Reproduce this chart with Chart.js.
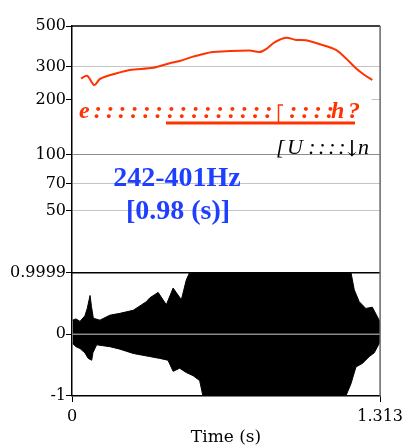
<!DOCTYPE html>
<html>
<head>
<meta charset="utf-8">
<script src="https://cdn.jsdelivr.net/npm/chart.js@4.4.1/dist/chart.umd.min.js"></script>
<style>
  html, body { margin: 0; padding: 0; background: #fff; }
</style>
</head>
<body>
<canvas id="chart" width="408" height="448"></canvas>
<script>
// --- Data ---
const xTicks = [0, 1.313];
const pitchTicks = [50, 70, 100, 200, 300, 500];
const waveTicks = [-1, 0, 0.9999];

// F0 track (s, Hz)
const pitchTime = [0.038, 0.065, 0.095, 0.119, 0.19, 0.246, 0.346, 0.416, 0.459, 0.516, 0.544, 0.6, 0.756, 0.799, 0.827, 0.863, 0.912, 0.955, 0.997, 1.054, 1.125, 1.167, 1.21, 1.245, 1.28];
const pitchHz = [260, 268, 239, 258, 277, 289, 297, 314, 323, 341, 348, 361, 368, 361, 375, 408, 432, 420, 418, 399, 371, 334, 295, 272, 255];

// waveform envelope (s, amplitude)
const waveTimeUp = [0.003, 0.017, 0.034, 0.055, 0.065, 0.077, 0.083, 0.091, 0.119, 0.161, 0.204, 0.261, 0.317, 0.331, 0.367, 0.402, 0.431, 0.466, 0.487, 0.501, 1.189, 1.203, 1.224, 1.252, 1.28, 1.309, 1.313];
const waveUp = [0.23, 0.25, 0.21, 0.3, 0.42, 0.63, 0.45, 0.26, 0.23, 0.31, 0.34, 0.39, 0.53, 0.59, 0.68, 0.48, 0.75, 0.56, 0.88, 1, 1, 0.72, 0.53, 0.42, 0.44, 0.23, 0.2];
const waveTimeLo = [0.003, 0.017, 0.034, 0.055, 0.069, 0.084, 0.089, 0.105, 0.161, 0.204, 0.261, 0.331, 0.374, 0.409, 0.431, 0.459, 0.487, 0.516, 0.544, 0.558, 1.167, 1.189, 1.21, 1.238, 1.267, 1.288, 1.309, 1.313];
const waveLo = [-0.15, -0.2, -0.23, -0.3, -0.39, -0.42, -0.3, -0.17, -0.2, -0.24, -0.31, -0.36, -0.39, -0.42, -0.6, -0.55, -0.62, -0.67, -0.75, -1, -1, -0.8, -0.53, -0.47, -0.36, -0.3, -0.15, -0.1];

const rangeText = ['242-401Hz', '[0.98 (s)]'];

// --- Styles ---
const RED = '#ff3300';
const BLUE = '#1f3fff';
const SERIF = '"DejaVu Serif", serif';
const TIMES = '"Liberation Serif", serif';
const tickFont = { family: SERIF, size: 16 };

const zip = (xs, ys) => xs.map((x, i) => ({ x, y: ys[i] }));

// annotation: transcription lines drawn glyph by glyph
function drawTranscription(ctx) {
  ctx.save();
  // white box hides the 200 Hz grid line under the text
  ctx.fillStyle = '#fff';
  ctx.fillRect(73, 96, 298.5, 30);

  ctx.fillStyle = RED;
  ctx.font = `italic bold 24px ${TIMES}`;
  ctx.textBaseline = 'alphabetic';
  ctx.textAlign = 'left';
  ctx.fillText('e', 79, 118);
  ctx.textAlign = 'center';
  for (let k = 0; k < 15; k++) ctx.fillText(':', 97.7 + 12.2 * k, 118);
  for (let k = 0; k < 4; k++) ctx.fillText(':', 293.3 + 12.2 * k, 118);
  ctx.textAlign = 'left';
  ctx.fillText('h', 331, 118);
  ctx.fillText('?', 348, 118);
  // bracket
  ctx.strokeStyle = RED;
  ctx.lineWidth = 1.5;
  ctx.beginPath();
  ctx.moveTo(283, 105);
  ctx.lineTo(278.5, 105);
  ctx.lineTo(278.5, 123);
  ctx.stroke();
  // underline
  ctx.fillRect(166, 121.5, 189, 3);

  // black line
  ctx.fillStyle = '#000';
  ctx.font = `italic 22px ${TIMES}`;
  ctx.textAlign = 'left';
  ctx.fillText('[', 276, 154);
  ctx.fillText('U', 287, 154);
  ctx.textAlign = 'center';
  for (let k = 0; k < 4; k++) ctx.fillText(':', 312 + 10 * k, 154);
  ctx.font = `22px ${SERIF}`;
  ctx.fillText('\u2193', 352, 156);
  ctx.font = `italic 22px ${TIMES}`;
  ctx.textAlign = 'left';
  ctx.fillText('n', 358, 154);

  // pitch range
  ctx.fillStyle = BLUE;
  ctx.font = `bold 28px ${TIMES}`;
  ctx.textAlign = 'center';
  ctx.fillText(rangeText[0], 177, 186);
  ctx.fillText(rangeText[1], 178, 219);
  ctx.restore();
}

const framePlugin = {
  id: 'frame',
  afterDatasetsDraw(chart) {
    const { ctx, chartArea: a, scales } = chart;
    const yw = scales.yWave;
    ctx.save();
    // zero line over the waveform
    ctx.strokeStyle = '#8a8a8a';
    ctx.lineWidth = 1.5;
    ctx.beginPath();
    const y0 = yw.getPixelForValue(0);
    ctx.moveTo(a.left, y0);
    ctx.lineTo(a.right, y0);
    ctx.stroke();
    // panel divider and top border
    ctx.strokeStyle = '#000';
    ctx.lineWidth = 1.5;
    ctx.beginPath();
    const yTop = yw.getPixelForValue(0.9999);
    ctx.moveTo(a.left, yTop);
    ctx.lineTo(a.right, yTop);
    ctx.moveTo(a.left, a.top);
    ctx.lineTo(a.right, a.top);
    ctx.stroke();
    // right border
    ctx.strokeStyle = '#666';
    ctx.beginPath();
    ctx.moveTo(a.right, a.top);
    ctx.lineTo(a.right, a.bottom);
    ctx.stroke();
    ctx.restore();
    drawTranscription(ctx);
  }
};

new Chart(document.getElementById('chart'), {
  type: 'line',
  data: {
    datasets: [
      {
        data: zip(pitchTime, pitchHz),
        yAxisID: 'yPitch',
        borderColor: RED,
        borderWidth: 2,
        pointRadius: 0,
        tension: 0.3,
        fill: false
      },
      {
        data: zip(waveTimeUp, waveUp),
        yAxisID: 'yWave',
        borderColor: '#000',
        borderWidth: 1,
        backgroundColor: '#000',
        pointRadius: 0,
        fill: 'origin'
      },
      {
        data: zip(waveTimeLo, waveLo),
        yAxisID: 'yWave',
        borderColor: '#000',
        borderWidth: 1,
        backgroundColor: '#000',
        pointRadius: 0,
        fill: 'origin'
      }
    ]
  },
  options: {
    responsive: false,
    animation: false,
    devicePixelRatio: 1,
    layout: { padding: { left: 0, right: 27, top: 26, bottom: 0 } },
    plugins: { legend: { display: false }, tooltip: { enabled: false } },
    scales: {
      x: {
        type: 'linear',
        min: 0,
        max: 1.313,
        afterBuildTicks: s => { s.ticks = xTicks.map(v => ({ value: v })); },
        afterFit: s => { s.height = 52; },
        ticks: { callback: v => String(v), font: tickFont, color: '#000', padding: 5, maxRotation: 0, autoSkip: false },
        grid: { drawOnChartArea: false, drawTicks: true, tickLength: 6, tickColor: '#000' },
        border: { color: '#000', width: 1.5 },
        title: { display: true, text: 'Time (s)', font: { family: SERIF, size: 17 }, color: '#000', padding: { top: 2, bottom: 0 } }
      },
      yWave: {
        type: 'linear',
        position: 'left',
        stack: 'panels',
        stackWeight: 1,
        min: -1,
        max: 0.9999,
        afterBuildTicks: s => { s.ticks = waveTicks.map(v => ({ value: v })); },
        afterFit: s => { s.width = 72; },
        ticks: { callback: v => String(v), font: tickFont, color: '#000', padding: 0, autoSkip: false },
        grid: { color: 'rgba(0,0,0,0)', tickColor: '#000', tickLength: 6 },
        border: { color: '#000', width: 1.5 }
      },
      yPitch: {
        type: 'logarithmic',
        position: 'left',
        stack: 'panels',
        stackWeight: 2,
        min: 23,
        max: 500,
        afterBuildTicks: s => { s.ticks = pitchTicks.map(v => ({ value: v })); },
        afterFit: s => { s.width = 72; },
        ticks: { callback: v => String(v), font: tickFont, color: '#000', padding: 0, autoSkip: false },
        grid: {
          color: c => c.tick && c.tick.value === 100 ? '#8c8c8c' : (c.tick && c.tick.value === 500 ? 'rgba(0,0,0,0)' : '#c4c4c4'),
          tickColor: '#000',
          tickLength: 6
        },
        border: { color: '#000', width: 1.5 }
      }
    }
  },
  plugins: [framePlugin]
});
</script>
</body>
</html>
